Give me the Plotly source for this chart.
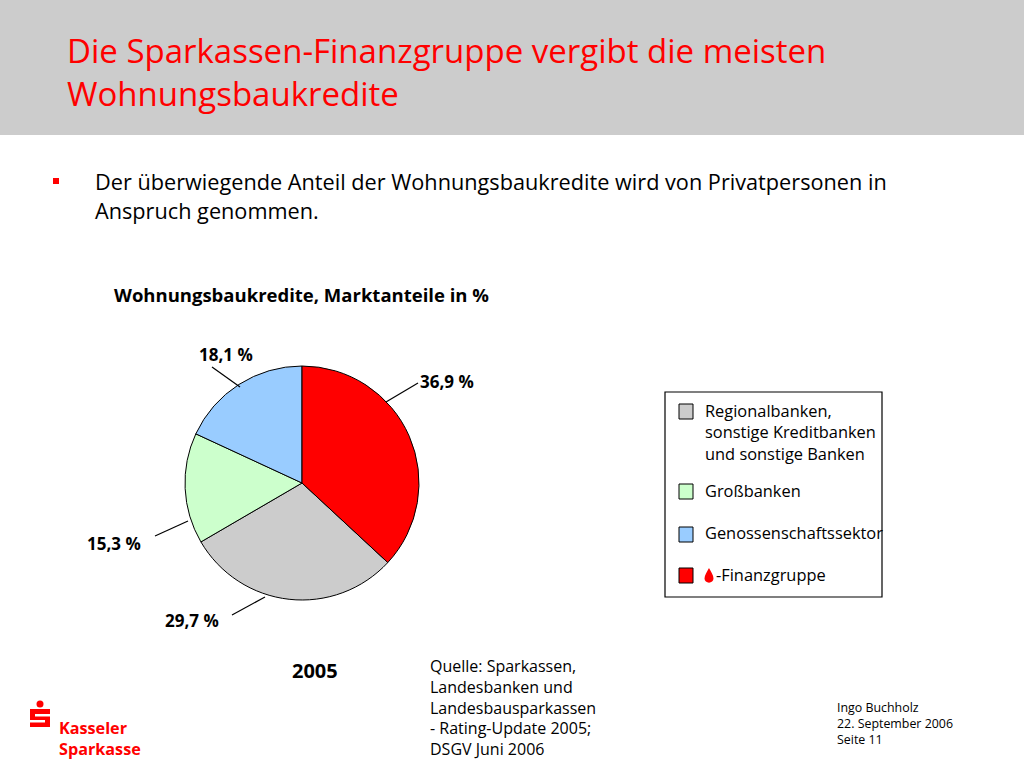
import plotly.graph_objects as go

# ---------------- data ----------------
slice_labels = ["Regionalbanken, sonstige Kreditbanken und sonstige Banken",
                "Großbanken", "Genossenschaftssektor", "S-Finanzgruppe"]
slice_values = [29.7, 15.3, 18.1, 36.9]
slice_colors = ["#CCCCCC", "#CCFFCC", "#99CCFF", "#FF0000"]
value_texts = ["29,7 %", "15,3 %", "18,1 %", "36,9 %"]
legend_lines = [["Regionalbanken,", "sonstige Kreditbanken", "und sonstige Banken"],
                ["Großbanken"], ["Genossenschaftssektor"], ["-Finanzgruppe"]]
title_lines = ["Die Sparkassen-Finanzgruppe vergibt die meisten", "Wohnungsbaukredite"]
bullet_lines = ["Der überwiegende Anteil der Wohnungsbaukredite wird von Privatpersonen in",
                "Anspruch genommen."]
chart_title = "Wohnungsbaukredite, Marktanteile in %"
year_label = "2005"
source_lines = ["Quelle: Sparkassen,", "Landesbanken und", "Landesbausparkassen",
                "- Rating-Update 2005;", "DSGV Juni 2006"]
footer_lines = ["Ingo Buchholz", "22. September 2006", "Seite 11"]
logo_lines = ["Kasseler", "Sparkasse"]

# ---------------- layout helpers ----------------
W, H = 1024, 768
FONT = "Open Sans"


def px(x):
    return x / W


def py(y):
    return 1 - y / H


shapes = []
annotations = []


def text(x, y, s, size, color="#000000", bold=False, xanchor="left", yanchor="middle", family=FONT):
    if isinstance(s, list):
        s = "<br>".join(s)
    if bold:
        s = "<b>" + s + "</b>"
    annotations.append(dict(x=px(x), y=py(y), xref="paper", yref="paper", text=s,
                            showarrow=False, xanchor=xanchor, yanchor=yanchor, align="left",
                            font=dict(size=size, color=color, family=family)))


def rect(x0, y0, x1, y1, fill, line=None, lw=1):
    shapes.append(dict(type="rect", xref="paper", yref="paper",
                       x0=px(x0), x1=px(x1), y0=py(y1), y1=py(y0),
                       fillcolor=fill, line=dict(color=line or fill, width=lw if line else 0),
                       layer="above"))


def line(x0, y0, x1, y1, color="#000000", lw=1):
    shapes.append(dict(type="line", xref="paper", yref="paper",
                       x0=px(x0), y0=py(y0), x1=px(x1), y1=py(y1),
                       line=dict(color=color, width=lw), layer="above"))


def path(cmds, fill):
    out = []
    for c in cmds:
        if isinstance(c, str):
            out.append(c)
        else:
            out.append(f"{px(c[0]):.5f},{py(c[1]):.5f}")
    shapes.append(dict(type="path", xref="paper", yref="paper", path=" ".join(out),
                       fillcolor=fill, line=dict(width=0), layer="above"))


# header band
shapes.append(dict(type="rect", xref="paper", yref="paper", x0=0, x1=1, y0=py(135), y1=1,
                   fillcolor="#CCCCCC", line=dict(width=0), layer="below"))
text(65, 72, title_lines, 33, color="#FF0000")

# bullet
rect(53, 178, 59, 184, "#FF0000")
for i, t in enumerate(bullet_lines):
    text(93, 181 + i * 30, t, 21.7)

# chart title
text(112, 295, chart_title, 18.5, bold=True)

# pie
cx, cy, r = 302, 483, 117
pie = go.Pie(labels=slice_labels, values=slice_values, sort=False, direction="clockwise",
             rotation=slice_values[-1] / sum(slice_values) * 360,
             marker=dict(colors=slice_colors, line=dict(color="#000000", width=1)),
             textinfo="none", hoverinfo="label+percent", showlegend=False,
             domain=dict(x=[px(cx - r), px(cx + r)], y=[py(cy + r), py(cy - r)]))

# value labels with leader lines (label pos, line start, line end)
label_layout = [((192, 620), (232, 615), (265, 597)),
                ((114, 543), (155, 536), (188, 521)),
                ((226, 355), (212, 367), (240, 387)),
                ((447, 381), (418, 383), (386, 402))]
for vt, (lp, a, b) in zip(value_texts, label_layout):
    text(lp[0], lp[1], vt, 17, bold=True, xanchor="center")
    line(a[0], a[1], b[0], b[1], lw=1.2)

# legend box
rect(665, 392, 882, 597, "rgba(0,0,0,0)", line="#000000", lw=1.2)
legend_y = [411, 491, 533, 575]
legend_sq = [404, 484, 527, 568]
legend_colors = ["#CCCCCC", "#CCFFCC", "#99CCFF", "#FF0000"]
for col, y0, ys, lines_ in zip(legend_colors, legend_sq, legend_y, legend_lines):
    rect(679, y0, 693, y0 + 15, col, line="#000000", lw=1)
    xx = 714 if lines_[0].startswith("-") else 703
    if len(lines_) == 1:
        text(xx, ys - 0.5, lines_, 16.4)
    else:
        text(xx, ys - 14, lines_, 16.4, yanchor="top")
# red drop icon before "-Finanzgruppe"
path(["M", (709, 568), "C", (707, 572), (704.5, 575), (704.5, 578.5),
      "C", (704.5, 584), (713.5, 584), (713.5, 578.5),
      "C", (713.5, 575), (711, 572), (709, 568), "Z"], "#FF0000")

# year and source
text(315, 670, year_label, 20, bold=True, xanchor="center")
text(428, 653, source_lines, 16, yanchor="top")

# footer right
text(835, 697, footer_lines, 12.4, yanchor="top")

# logo
shapes.append(dict(type="circle", xref="paper", yref="paper",
                   x0=px(36.5), x1=px(43.5), y0=py(707.5), y1=py(700.5),
                   fillcolor="#FF0000", line=dict(width=0), layer="above"))
rect(30, 709, 50, 727, "#FF0000")
rect(35, 714, 50, 716.5, "#FFFFFF")
rect(30, 720, 45, 722.5, "#FFFFFF")
text(57, 738.5, logo_lines, 16.2, color="#FF0000", bold=True)

fig = go.Figure(pie)
fig.update_layout(width=W, height=H, margin=dict(l=0, r=0, t=0, b=0),
                  paper_bgcolor="#FFFFFF", plot_bgcolor="#FFFFFF",
                  shapes=shapes, annotations=annotations, showlegend=False,
                  font=dict(family=FONT))
fig.write_html("out.html", config={"displayModeBar": False},
               post_script="document.body.style.margin='0';document.body.style.overflow='hidden';")
